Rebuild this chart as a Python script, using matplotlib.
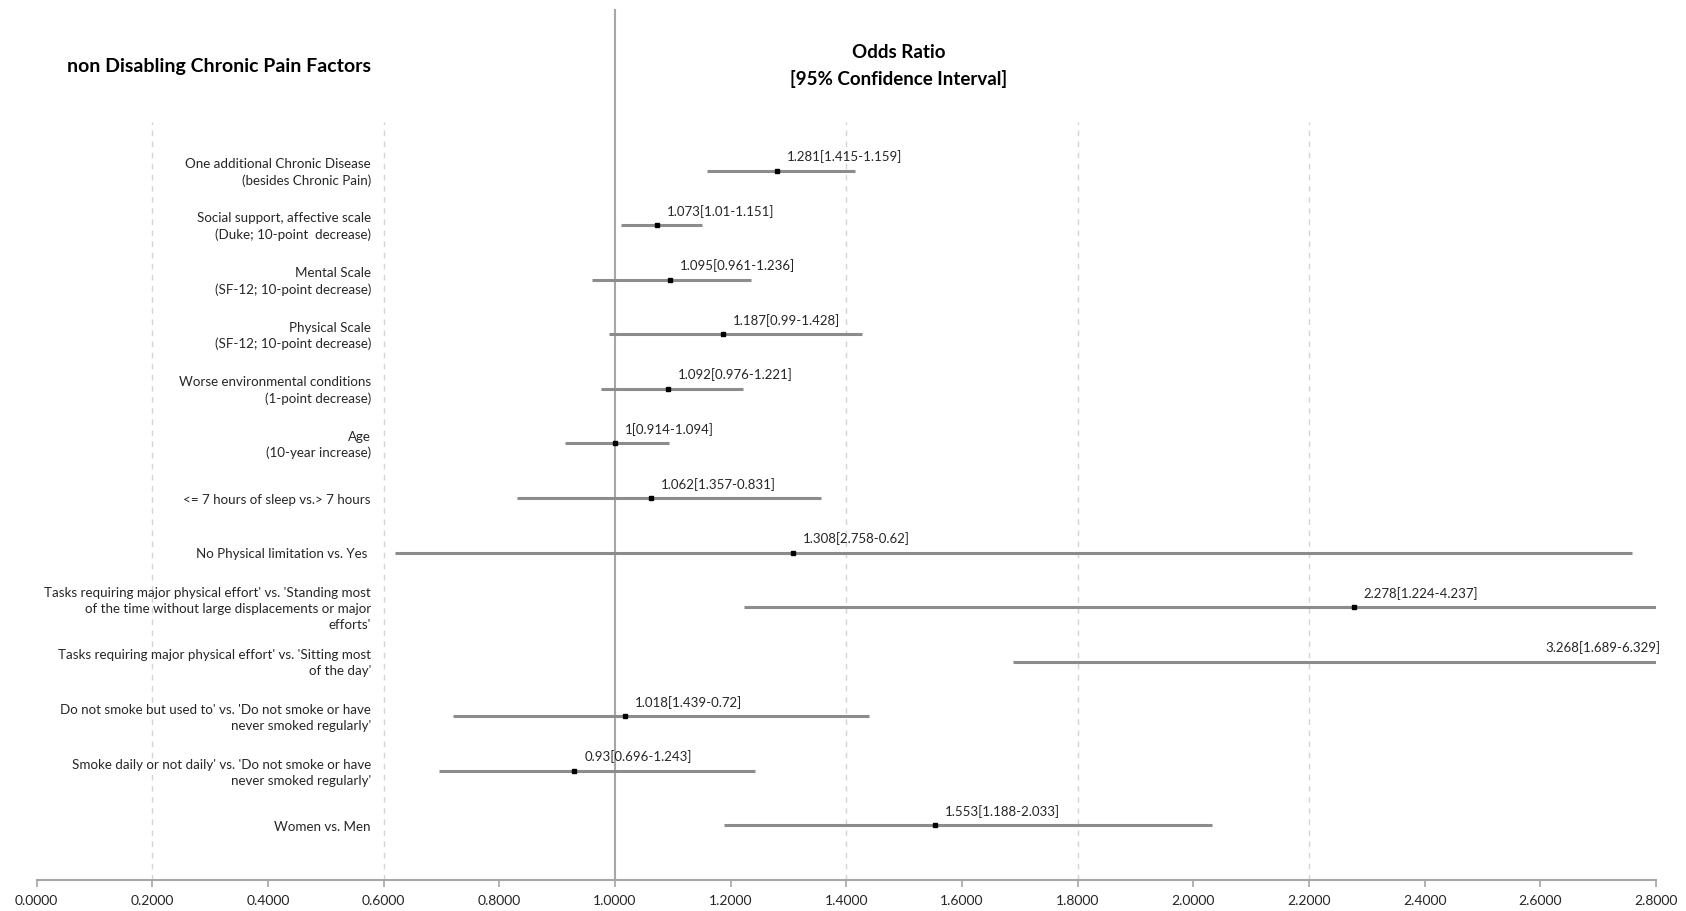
import matplotlib
matplotlib.use("Agg")
import matplotlib.pyplot as plt

plt.rcParams['font.family'] = ['Lato', 'DejaVu Sans']

# factors, top to bottom
factors = [
    "One additional Chronic Disease\n(besides Chronic Pain)",
    "Social support, affective scale\n(Duke; 10-point  decrease)",
    "Mental Scale\n(SF-12; 10-point decrease)",
    "Physical Scale\n(SF-12; 10-point decrease)",
    "Worse environmental conditions\n(1-point decrease)",
    "Age\n(10-year increase)",
    "<= 7 hours of sleep vs.> 7 hours",
    "No Physical limitation vs. Yes ",
    "Tasks requiring major physical effort' vs. 'Standing most\nof the time without large displacements or major\nefforts'",
    "Tasks requiring major physical effort' vs. 'Sitting most\nof the day'",
    "Do not smoke but used to' vs. 'Do not smoke or have\nnever smoked regularly'",
    "Smoke daily or not daily' vs. 'Do not smoke or have\nnever smoked regularly'",
    "Women vs. Men",
]
odds = [1.281, 1.073, 1.095, 1.187, 1.092, 1, 1.062, 1.308, 2.278, 3.268, 1.018, 0.93, 1.553]
ci_a = [1.415, 1.01, 0.961, 0.99, 0.976, 0.914, 1.357, 2.758, 1.224, 1.689, 1.439, 0.696, 1.188]
ci_b = [1.159, 1.151, 1.236, 1.428, 1.221, 1.094, 0.831, 0.62, 4.237, 6.329, 0.72, 1.243, 2.033]

xticks = [0.0, 0.2, 0.4, 0.6, 0.8, 1.0, 1.2, 1.4, 1.6, 1.8, 2.0, 2.2, 2.4, 2.6, 2.8]
grid_x = [0.2, 0.6, 1.4, 1.8, 2.2]

fig = plt.figure(figsize=(16.86, 9.11), dpi=100)
ax = fig.add_axes([0.0217, 0.034, 0.9605, 0.9566])
ax.set_xlim(0, 2.8)
ax.set_ylim(0, 15.97)

n = len(factors)
ys = [n - i for i in range(n)]

ax.vlines(grid_x, 0, 13.9, colors='#d4d4d4', linestyles=(0, (4, 4)), linewidth=1.0, zorder=1)
ax.axvline(1.0, color='#a6a6a6', linewidth=1.5, zorder=1)

for y, o, a, b, lab in zip(ys, odds, ci_a, ci_b, factors):
    lo, hi = min(a, b), max(a, b)
    ax.plot([lo, hi], [y, y], color='#8c8c8c', linewidth=2.2, solid_capstyle='butt', zorder=2)
    ax.plot([o], [y], marker='s', color='black', markersize=3.5, zorder=3)
    txt = "%s[%s-%s]" % (o, a, b)
    if o > 2.8:
        # point lies past the axis end, keep its label inside
        ax.annotate(txt, (2.8, y), xytext=(3, 10), textcoords='offset points',
                    ha='right', va='center', fontsize=9.5, color='#262626')
    else:
        ax.annotate(txt, (o, y), xytext=(7, 10), textcoords='offset points',
                    ha='left', va='center', fontsize=9.5, color='#262626')
    ax.text(0.578, y - 0.03, lab, ha='right', va='center', fontsize=9.6,
            color='#262626', linespacing=1.4)

ax.text(0.578, 14.9, "non Disabling Chronic Pain Factors", ha='right', va='center',
        fontsize=14, fontweight='bold', color='black')
ax.text(1.49, 15.16, "Odds Ratio", ha='center', va='center',
        fontsize=13.5, fontweight='bold', color='black')
ax.text(1.49, 14.68, "[95% Confidence Interval]", ha='center', va='center',
        fontsize=13.5, fontweight='bold', color='black')

for s in ['left', 'top', 'right']:
    ax.spines[s].set_visible(False)
ax.spines['bottom'].set_color('#a6a6a6')
ax.spines['bottom'].set_linewidth(1.5)
ax.set_yticks([])
ax.set_xticks(xticks)
ax.set_xticklabels(["%.4f" % t for t in xticks])
ax.tick_params(axis='x', colors='#a6a6a6', length=5, width=1.2, labelsize=10,
               labelcolor='#262626', pad=6)

fig.savefig("out.png", dpi=100)
